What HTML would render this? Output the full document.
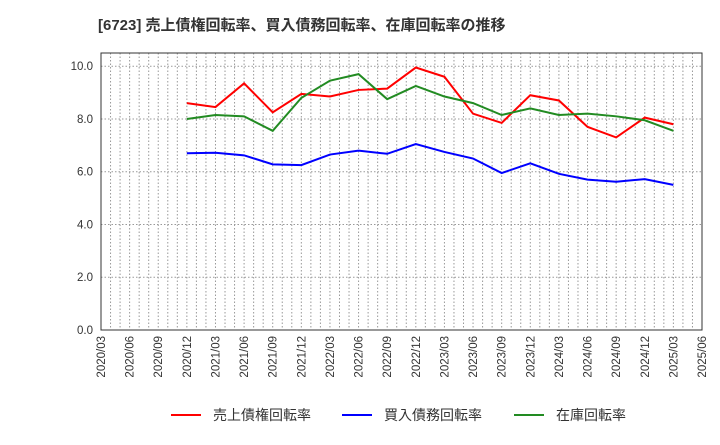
<!DOCTYPE html>
<html><head><meta charset="utf-8"><style>
body{margin:0;background:#fff;font-family:"Liberation Sans","Noto Sans CJK JP",sans-serif;}
svg text{font-family:"Liberation Sans","Noto Sans CJK JP",sans-serif;}
</style></head><body>
<svg id="c" width="720" height="440"></svg>
<script>
const categories=["2020/03","2020/06","2020/09","2020/12","2021/03","2021/06","2021/09","2021/12","2022/03","2022/06","2022/09","2022/12","2023/03","2023/06","2023/09","2023/12","2024/03","2024/06","2024/09","2024/12","2025/03","2025/06"];
const yTicks=[0,2,4,6,8,10];
const yTickLabels=["0.0","2.0","4.0","6.0","8.0","10.0"];
const receivables=[null,null,null,8.6,8.45,9.35,8.25,8.95,8.85,9.1,9.15,9.95,9.6,8.2,7.85,8.9,8.7,7.7,7.3,8.05,7.8,null];
const payables=[null,null,null,6.7,6.72,6.62,6.28,6.25,6.65,6.8,6.68,7.05,6.75,6.5,5.95,6.32,5.92,5.7,5.62,5.72,5.5,null];
const inventory=[null,null,null,8.0,8.15,8.1,7.55,8.8,9.45,9.7,8.75,9.25,8.85,8.6,8.15,8.4,8.15,8.2,8.1,7.95,7.55,null];
const seriesNames=["売上債権回転率","買入債務回転率","在庫回転率"];
const colors=["#ff0000","#0000ff","#228b22"];
const svg=document.getElementById('c');const NS="http://www.w3.org/2000/svg";
const L=101,R=702,T=53,B=330,yMax=10.5;
const x=i=>L+(R-L)*i/(categories.length-1);
const y=v=>B-(B-T)*v/yMax;
function mk(t,a,p){const e=document.createElementNS(NS,t);for(const k in a)e.setAttribute(k,a[k]);(p||svg).appendChild(e);return e;}
const title=mk('text',{x:98,y:30,'font-size':15,'font-weight':'bold',fill:'#333','xml:space':'preserve'});title.textContent="[6723]  売上債権回転率、買入債務回転率、在庫回転率の推移";


const grid=mk('g',{stroke:'#999','stroke-dasharray':'1.5,2','stroke-width':1});


for(let m=1;m<(categories.length-1)*3;m++){const xx=L+(R-L)*m/((categories.length-1)*3);mk('line',{x1:xx,x2:xx,y1:T,y2:B},grid);}
yTicks.forEach((v,i)=>{if(v>0)mk('line',{x1:L,x2:R,y1:y(v),y2:y(v)},grid);
const t=mk('text',{x:L-8,y:y(v)+4,'text-anchor':'end','font-size':11.5,fill:'#333'});t.textContent=yTickLabels[i];

});
const frame=mk('rect',{x:L,y:T,width:R-L,height:B-T,fill:'none',stroke:'#333','stroke-width':1});


categories.forEach((c,i)=>{const t=mk('text',{transform:`translate(${x(i)+4},${B+6}) rotate(-90)`,'text-anchor':'end','font-size':11.5,fill:'#333'});t.textContent=c;

});
[receivables,payables,inventory].forEach((s,k)=>{let d='';s.forEach((v,i)=>{if(v!=null)d+=(d?'L':'M')+x(i)+','+y(v);});
const p=mk('path',{d:d,fill:'none',stroke:colors[k],'stroke-width':2});

});
const lx=[171,342,514];
seriesNames.forEach((n,k)=>{const g=mk('g',{});


mk('line',{x1:lx[k],x2:lx[k]+30,y1:415,y2:415,stroke:colors[k],'stroke-width':2},g);
const t=mk('text',{x:lx[k]+42,y:420,'font-size':14,fill:'#333'},g);t.textContent=n;});
</script>
</body></html>
